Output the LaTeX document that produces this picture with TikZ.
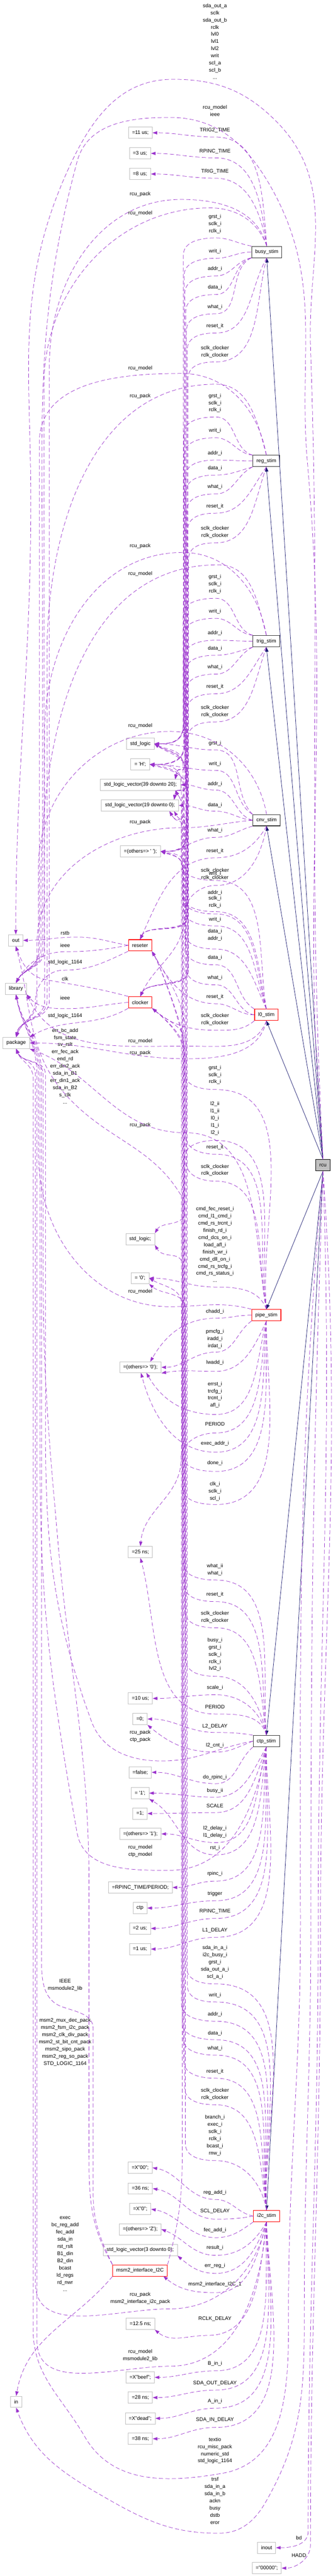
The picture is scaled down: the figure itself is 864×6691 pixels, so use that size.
\documentclass[tikz,border=0pt]{standalone}
\usepackage{fontspec}
\setmainfont{Liberation Sans}
\usetikzlibrary{arrows.meta}
\definecolor{edgec}{HTML}{9A32CD}
\definecolor{navyc}{HTML}{191970}
\definecolor{boxg}{HTML}{BFBFBF}
\newcommand\myq{\textquotesingle}
\newcommand\Tc[3]{.. controls +({#3*cos(#1)},{-#3*sin(#1)}) and +({#3*cos(#2)},{-#3*sin(#2)}) ..}
\newcommand\EDN[8]{\draw[dedge] (#1) \Tc{#2}{0}{#3} (560,#4) \Tc{180}{90}{37} (#5,#4+45) -- (#5,#6) \Tc{-90}{#7}{45} (#8);}
\newcommand\EUP[8]{\draw[dedge] (#1) \Tc{#2}{0}{#3} (560,#4) \Tc{180}{-90}{37} (#5,#4-45) -- (#5,#6) \Tc{90}{#7}{45} (#8);}
\newcommand\EDI[5]{\draw[dedge] (#1) \Tc{#2}{0}{#3} (560,#4) \Tc{180}{0}{65} (#5);}
\begin{document}
\begin{tikzpicture}[x=0.75pt,y=-0.75pt,font=\fontsize{10}{14}\selectfont,
 val/.style={draw=boxg,line width=0.9pt,fill=white,minimum height=22pt,inner xsep=7pt,inner ysep=0pt},
 comp/.style={draw=black!80,line width=1.1pt,fill=white,minimum height=22pt,inner xsep=7pt,inner ysep=0pt},
 redc/.style={comp,draw=red},
 lbl/.style={align=center,inner sep=0pt},
 dedge/.style={draw=edgec,line width=0.75pt,dash pattern=on 8pt off 4.5pt,-{Triangle[length=9pt,width=6.3pt]}},
 sedge/.style={draw=navyc,line width=0.75pt,-{Triangle[length=9pt,width=6.3pt]}}]
\fill[white] (0,0) rectangle (864,6691);
\useasboundingbox (0,0) rectangle (864,6691);
% ---------- nodes ----------
\node[val] (v11us) at (364.5,345) {=11 us;};
\node[val] (v3us) at (363.5,398.5) {=3 us;};
\node[val] (v8us) at (363.5,452) {=8 us;};
\node[val] (stdlogic) at (364.5,1932) {std\_logic};
\node[val] (vH) at (364,1985.5) {= \myq H\myq;};
\node[val] (slv3920) at (364.5,2038.5) {std\_logic\_vector(39 downto 20);};
\node[val] (slv190) at (363.5,2092) {std\_logic\_vector(19 downto 0);};
\node[val] (othsp) at (364.5,2211.5) {=(others=> \myq~\myq);};
\node[val] (nout) at (41,2442.5) {out};
\node[val] (nlib) at (41.5,2568) {library};
\node[val] (npkg) at (42,2709) {package};
\node[val] (stdlogicsemi) at (364,3218.5) {std\_logic;};
\node[val] (v0q) at (363.5,3320) {= \myq 0\myq;};
\node[val] (oth0) at (364.5,3551.5) {=(others=> \myq 0\myq);};
\node[val] (v25ns) at (364.5,4031.5) {=25 ns;};
\node[val] (v10us) at (364.5,4411.5) {=10 us;};
\node[val] (vzero) at (363.5,4465) {=0;};
\node[val] (vfalse) at (364,4603.5) {=false;};
\node[val] (v1q) at (363.5,4657.5) {= \myq 1\myq;};
\node[val] (vone) at (363.5,4710.5) {=1;};
\node[val] (oth1) at (364.5,4763.5) {=(others=> \myq 1\myq);};
\node[val] (vrpinc) at (364.5,4902.5) {=RPINC\_TIME/PERIOD;};
\node[val] (ctp) at (363.5,4956) {ctp};
\node[val] (v2us) at (363.5,5009) {=2 us;};
\node[val] (v1us) at (363.5,5062.5) {=1 us;};
\node[val] (vX00) at (364,5630.5) {=X"00";};
\node[val] (v36ns) at (364.5,5684.5) {=36 ns;};
\node[val] (vX0) at (364,5738) {=X"0";};
\node[val] (othZ) at (364,5790.5) {=(others=> \myq Z\myq);};
\node[val] (slv30) at (364,5844) {std\_logic\_vector(3 downto 0);};
\node[val] (v125ns) at (364.5,6036) {=12.5 ns;};
\node[val] (vbeef) at (364,6175) {=X"beef";};
\node[val] (v28ns) at (364.5,6227.5) {=28 ns;};
\node[val] (vdead) at (364,6281.5) {=X"dead";};
\node[val] (v38ns) at (364.5,6334.5) {=38 ns;};
\node[val] (nin) at (42,6238.5) {in};
\node[val] (ninout) at (692,6617.5) {inout};
\node[val] (n00000) at (692.5,6670.5) {="00000";};
\node[redc] (reseter) at (363.5,2455.5) {reseter};
\node[redc] (clocker) at (364,2603.5) {clocker};
\node[redc] (msm2) at (363.5,5897.5) {msm2\_interface\_I2C};
\node[comp] (busy) at (692.5,654.5) {busy\_stim};
\node[comp] (reg) at (691.5,1197.5) {reg\_stim};
\node[comp] (trig) at (691.5,1665.5) {trig\_stim};
\node[comp] (cnv) at (692,2130.5) {cnv\_stim};
\node[redc] (l0stim) at (691.5,2636) {l0\_stim};
\node[redc] (pipe) at (691.5,3416) {pipe\_stim};
\node[comp] (ctpstim) at (691.5,4522.5) {ctp\_stim};
\node[redc] (i2c) at (692,5756) {i2c\_stim};
\node[draw=black,line width=1.1pt,fill=boxg,minimum height=22pt,inner xsep=7pt,inner ysep=0pt] (rcu) at (838.5,3026.5) {rcu};
\coordinate (s39top) at (455,2024);
\coordinate (s39bot) at (455,2053);
\coordinate (s19top) at (452,2077);
\coordinate (s19bot) at (452,2107);
\coordinate (s19bot2) at (440,2107);
\coordinate (o0top) at (390,3537);
\coordinate (o0bot) at (380,3566);
\coordinate (o0bot2) at (366,3566);
\coordinate (m2se) at (424,5912);
% ---------- labels ----------
\node[lbl] (t1) at (558,107.5) {sda\_out\_a\\sclk\\sda\_out\_b\\rclk\\lvl0\\lvl1\\lvl2\\writ\\scl\_a\\scl\_b\\...};
\node[lbl] (t2) at (558,288) {rcu\_model\\ieee};
\node[lbl] (t3) at (558,339) {TRIG2\_TIME};
\node[lbl] (t4) at (558,393) {RPINC\_TIME};
\node[lbl] (t5) at (558,445) {TRIG\_TIME};
\node[lbl] (t6) at (364,505) {rcu\_pack};
\node[lbl] (t7) at (364,554) {rcu\_model};
\node[lbl] (t8) at (558,582) {grst\_i\\sclk\_i\\rclk\_i};
\node[lbl] (t9) at (558,653) {writ\_i};
\node[lbl] (t10) at (558,699) {addr\_i};
\node[lbl] (t11) at (558,747) {data\_i};
\node[lbl] (t12) at (558,797) {what\_i};
\node[lbl] (t13) at (558,847) {reset\_it};
\node[lbl] (t14) at (558,914) {sclk\_clocker\\rclk\_clocker};
\node[lbl] (t15) at (364,956) {rcu\_model};
\node[lbl] (t16) at (364,1029) {rcu\_pack};
\node[lbl] (t17) at (558,1047) {grst\_i\\sclk\_i\\rclk\_i};
\node[lbl] (t18) at (558,1119) {writ\_i};
\node[lbl] (t19) at (558,1177) {addr\_i};
\node[lbl] (t20) at (558,1216) {data\_i};
\node[lbl] (t21) at (558,1265) {what\_i};
\node[lbl] (t22) at (558,1315) {reset\_it};
\node[lbl] (t23) at (558,1382.5) {sclk\_clocker\\rclk\_clocker};
\node[lbl] (t24) at (364,1419) {rcu\_pack};
\node[lbl] (t25) at (364,1491) {rcu\_model};
\node[lbl] (t26) at (558,1517.5) {grst\_i\\sclk\_i\\rclk\_i};
\node[lbl] (t27) at (558,1588) {writ\_i};
\node[lbl] (t28) at (558,1645) {addr\_i};
\node[lbl] (t29) at (558,1684) {data\_i};
\node[lbl] (t30) at (558,1733) {what\_i};
\node[lbl] (t31) at (558,1784) {reset\_it};
\node[lbl] (t32) at (558,1848) {sclk\_clocker\\rclk\_clocker};
\node[lbl] (t33) at (364,1885) {rcu\_model};
\node[lbl] (t34) at (558,1931) {grst\_i};
\node[lbl] (t35) at (558,1984) {writ\_i};
\node[lbl] (t36) at (558,2036) {addr\_i};
\node[lbl] (t37) at (558,2092) {data\_i};
\node[lbl] (t38) at (364,2135) {rcu\_pack};
\node[lbl] (t39) at (558,2157) {what\_i};
\node[lbl] (t40) at (558,2211) {reset\_it};
\node[lbl] (t41) at (558,2270.5) {sclk\_clocker\\rclk\_clocker};
\node[lbl] (t42) at (558,2269) {writ\_i};
\node[lbl] (t43) at (558,2319) {addr\_i};
\node[lbl] (t44) at (558,2342.5) {sclk\_i\\rclk\_i};
\node[lbl] (t45) at (558,2388) {writ\_i};
\node[lbl] (t46) at (558,2428.5) {data\_i\\addr\_i};
\node[lbl] (t47) at (558,2488) {data\_i};
\node[lbl] (t48) at (558,2540) {what\_i};
\node[lbl] (t49) at (558,2589) {reset\_it};
\node[lbl] (t50) at (558,2647.5) {sclk\_clocker\\rclk\_clocker};
\node[lbl] (t51) at (364,2704) {rcu\_model};
\node[lbl] (t52) at (364,2735) {rcu\_pack};
\node[lbl] (t53) at (558,2792) {grst\_i\\sclk\_i\\rclk\_i};
\node[lbl] (t54) at (558,2905.5) {l2\_ii\\l1\_ii\\l0\_i\\l1\_i\\l2\_i};
\node[lbl] (t55) at (364,2923) {rcu\_pack};
\node[lbl] (t56) at (558,2980) {reset\_it};
\node[lbl] (t57) at (558,3039.5) {sclk\_clocker\\rclk\_clocker};
\node[lbl] (t58) at (558,3232.5) {cmd\_fec\_reset\_i\\cmd\_l1\_cmd\_i\\cmd\_rs\_trcnt\_i\\finish\_rd\_i\\cmd\_dcs\_on\_i\\load\_afl\_i\\finish\_wr\_i\\cmd\_dll\_on\_i\\cmd\_rs\_trcfg\_i\\cmd\_rs\_status\_i\\...};
\node[lbl] (t59) at (364,3354) {rcu\_model};
\node[lbl] (t60) at (558,3407) {chadd\_i};
\node[lbl] (t61) at (558,3477.5) {pmcfg\_i\\iradd\_i\\irdat\_i};
\node[lbl] (t62) at (558,3540) {lwadd\_i};
\node[lbl] (t63) at (558,3623) {errst\_i\\trcfg\_i\\trcnt\_i\\afl\_i};
\node[lbl] (t64) at (558,3699) {PERIOD};
\node[lbl] (t65) at (558,3749) {exec\_addr\_i};
\node[lbl] (t66) at (558,3800) {done\_i};
\node[lbl] (t67) at (558,3873.5) {clk\_i\\sclk\_i\\scl\_i};
\node[lbl] (t68) at (558,4077) {what\_ii\\what\_i};
\node[lbl] (t69) at (558,4141) {reset\_it};
\node[lbl] (t70) at (558,4200) {sclk\_clocker\\rclk\_clocker};
\node[lbl] (t71) at (558,4297.5) {busy\_i\\grst\_i\\sclk\_i\\rclk\_i\\lvl2\_i};
\node[lbl] (t72) at (558,4384) {scale\_i};
\node[lbl] (t73) at (558,4434) {PERIOD};
\node[lbl] (t74) at (558,4484) {L2\_DELAY};
\node[lbl] (t75) at (364,4509.5) {rcu\_pack\\ctp\_pack};
\node[lbl] (t76) at (558,4534) {l2\_cnt\_i};
\node[lbl] (t77) at (558,4616) {do\_rpinc\_i};
\node[lbl] (t78) at (558,4651) {busy\_ii};
\node[lbl] (t79) at (558,4691) {SCALE};
\node[lbl] (t80) at (558,4758.5) {l2\_delay\_i\\l1\_delay\_i};
\node[lbl] (t81) at (364,4808) {rcu\_model\\ctp\_model};
\node[lbl] (t82) at (558,4800) {rst\_i};
\node[lbl] (t83) at (558,4867) {rpinc\_i};
\node[lbl] (t84) at (558,4919) {trigger};
\node[lbl] (t85) at (558,4965) {RPINC\_TIME};
\node[lbl] (t86) at (558,5014) {L1\_DELAY};
\node[lbl] (t87) at (558,5097.5) {sda\_in\_a\_i\\i2c\_busy\_i\\grst\_i\\sda\_out\_a\_i\\scl\_a\_i};
\node[lbl] (t88) at (169,5155.5) {IEEE\\msmodule2\_lib};
\node[lbl] (t89) at (558,5183) {writ\_i};
\node[lbl] (t90) at (558,5232) {addr\_i};
\node[lbl] (t91) at (169,5304) {msm2\_mux\_dec\_pack\\msm2\_fsm\_i2c\_pack\\msm2\_clk\_div\_pack\\msm2\_st\_bit\_cnt\_pack\\msm2\_sipo\_pack\\msm2\_reg\_so\_pack\\STD\_LOGIC\_1164};
\node[lbl] (t92) at (558,5281) {data\_i};
\node[lbl] (t93) at (558,5321) {what\_i};
\node[lbl] (t94) at (558,5381) {reset\_it};
\node[lbl] (t95) at (558,5440) {sclk\_clocker\\rclk\_clocker};
\node[lbl] (t96) at (558,5546.5) {branch\_i\\exec\_i\\sclk\_i\\rclk\_i\\bcast\_i\\rnw\_i};
\node[lbl] (t97) at (558,5695) {reg\_add\_i};
\node[lbl] (t98) at (558,5744) {SCL\_DELAY};
\node[lbl] (t99) at (169,5854) {exec\\bc\_reg\_add\\fec\_add\\sda\_in\\rst\_rslt\\B1\_din\\B2\_din\\bcast\\ld\_regs\\rd\_nwr\\...};
\node[lbl] (t100) at (558,5793) {fec\_add\_i};
\node[lbl] (t101) at (558,5839) {result\_i};
\node[lbl] (t102) at (558,5885) {err\_reg\_i};
\node[lbl] (t103) at (558,5933) {msm2\_interface\_I2C\_1};
\node[lbl] (t104) at (364,5969.5) {rcu\_pack\\msm2\_interface\_i2c\_pack};
\node[lbl] (t105) at (558,6023) {RCLK\_DELAY};
\node[lbl] (t106) at (364,6117.5) {rcu\_model\\msmodule2\_lib};
\node[lbl] (t107) at (558,6139) {B\_in\_i};
\node[lbl] (t108) at (558,6191) {SDA\_OUT\_DELAY};
\node[lbl] (t109) at (558,6237) {A\_in\_i};
\node[lbl] (t110) at (558,6286) {SDA\_IN\_DELAY};
\node[lbl] (t111) at (558,6365) {textio\\rcu\_misc\_pack\\numeric\_std\\std\_logic\_1164};
\node[lbl] (t112) at (558,6495) {trsf\\sda\_in\_a\\sda\_in\_b\\ackn\\busy\\dstb\\eror};
\node[lbl] (t113) at (776,6592) {bd};
\node[lbl] (t114) at (776,6637) {HADD};
\node[lbl] (t115) at (169,2424) {rstb};
\node[lbl] (t116) at (169,2456) {ieee};
\node[lbl] (t117) at (169,2500) {std\_logic\_1164};
\node[lbl] (t118) at (169,2543) {clk};
\node[lbl] (t119) at (169,2592) {ieee};
\node[lbl] (t120) at (169,2639) {std\_logic\_1164};
\node[lbl] (t121) at (169,2769) {err\_bc\_add\\fsm\_state\\sv\_rslt\\err\_fec\_ack\\end\_rd\\err\_din2\_ack\\sda\_in\_B1\\err\_din1\_ack\\sda\_in\_B2\\s\_clk\\...};
% ---------- solid edges ----------
\draw[sedge] (rcu.north) -- (busy.south);
\draw[sedge] (rcu.north) -- (reg.south);
\draw[sedge] (rcu.north) -- (trig.south);
\draw[sedge] (rcu.north) -- (cnv.south);
\draw[sedge] (rcu.north) -- (l0stim.south);
\draw[sedge] (rcu.south) -- (pipe.north);
\draw[sedge] (rcu.south) -- (ctpstim.north);
\draw[sedge] (rcu.south) -- (i2c.north);
% ---------- rcu edges ----------
\draw[dedge] (rcu.north) \Tc{93}{-88}{824} (806,900) \Tc{92}{-45}{231} (716,314) \Tc{135}{0}{112} (449,206) \Tc{180}{65}{136} (182,429) \Tc{-115}{90}{342} (80,1300) \Tc{-90}{90}{440} (nout.north);
\draw[dedge] (rcu.north) \Tc{95}{-85}{707} (798,1200) \Tc{95}{-60}{283} (700,480) \Tc{120}{0}{122} (441,305) \Tc{180}{75}{104} (200,420) \Tc{-105}{90}{423} (110,1500) -- (110,2470) \Tc{-90}{60}{42} (nlib.north);
\draw[dedge] (rcu.south) \Tc{-95}{90}{764} (780,5000) \Tc{-90}{90}{390} (749,6000) \Tc{-90}{10}{178} (578,6424) \Tc{190}{-60}{144} (220,6329) \Tc{120}{-90}{121} (86,6050) -- (86,2800) \Tc{90}{-70}{34} (npkg.south);
\draw[dedge] (rcu.south) \Tc{-92}{90}{764} (807,5000) \Tc{-90}{90}{390} (790,6000) \Tc{-90}{60}{199} (689,6500) \Tc{-120}{0}{57} (567,6580) \Tc{180}{-30}{124} (264,6482) \Tc{150}{-70}{124} (nin.south);
\draw[dedge] (rcu.south) \Tc{-88}{90}{764} (826,5000) \Tc{-90}{90}{614} (800,6575) \Tc{-90}{0}{37} (ninout.east);
\draw[dedge] (rcu.south) \Tc{-86}{90}{764} (832,5000) \Tc{-90}{90}{628} (806,6610) \Tc{-90}{0}{37} (n00000.east);
% ---------- busy_stim ----------
\EDI{busy.north}{95}{122}{356}{v11us.east}
\EDI{busy.north}{97}{103}{410}{v3us.east}
\EDI{busy.north}{100}{86}{463}{v8us.east}
\draw[dedge] (busy.north) \Tc{105}{0}{99} (470,518) \Tc{180}{90}{215} (128,950) -- (128,2600) \Tc{-90}{80}{50} (npkg.north);
\draw[dedge] (busy.north) \Tc{110}{0}{69} (545,540) \Tc{180}{90}{246} (114,1000) -- (114,2470) \Tc{-90}{60}{43} (nlib.north);
\EDN{busy.north west}{170}{37}{618}{476}{1880}{0}{stdlogic.east}
\EDN{busy.west}{180}{36}{671}{478}{1935}{0}{vH.east}
\EDN{busy.south west}{190}{40}{717}{480}{1975}{80}{s39top}
\EDN{busy.south west}{195}{52}{765}{482}{2030}{80}{s19top}
\EDN{busy.south west}{205}{67}{815}{484}{2160}{0}{othsp.east}
\EDN{busy.south}{240}{92}{865}{486}{2380}{65}{reseter.north}
\EDN{busy.south}{255}{117}{940}{488}{2520}{65}{clocker.north}
% ---------- reg_stim ----------
\draw[dedge] (reg.north) \Tc{100}{0}{120} (470,970) \Tc{180}{90}{160} (102,1150) -- (102,2470) \Tc{-90}{60}{40} (nlib.north);
\draw[dedge] (reg.north) \Tc{105}{0}{88} (560,998) \Tc{180}{90}{323} (122,1700) -- (122,2600) \Tc{-90}{80}{48} (npkg.north);
\EDN{reg.north west}{165}{54}{1083}{477}{1882}{0}{stdlogic.east}
\EDN{reg.north west}{175}{41}{1137}{479}{1937}{0}{vH.east}
\EDN{reg.west}{180}{37}{1195}{481}{1977}{80}{s39top}
\EDN{reg.south west}{195}{38}{1234}{483}{2032}{80}{s19top}
\EDN{reg.south west}{205}{46}{1283}{485}{2163}{0}{othsp.east}
\EDN{reg.south}{235}{70}{1333}{487}{2382}{65}{reseter.north}
\EDN{reg.south}{250}{93}{1410}{489}{2522}{65}{clocker.north}
% ---------- trig_stim ----------
\draw[dedge] (trig.north) \Tc{100}{0}{119} (474,1435) \Tc{180}{90}{229} (116,1900) -- (116,2600) \Tc{-90}{80}{47} (npkg.north);
\draw[dedge] (trig.north) \Tc{105}{0}{87} (567,1467) \Tc{180}{90}{371} (106,2300) -- (106,2470) \Tc{-90}{60}{41} (nlib.north);
\EDN{trig.north west}{165}{53}{1554}{475}{1884}{0}{stdlogic.east}
\EDN{trig.north west}{175}{41}{1606}{477}{1939}{0}{vH.east}
\EDN{trig.west}{180}{37}{1663}{479}{1979}{80}{s39top}
\EDN{trig.south west}{195}{38}{1702}{481}{2034}{80}{s19top}
\EDN{trig.south west}{205}{46}{1751}{483}{2165}{0}{othsp.east}
\EDN{trig.south}{235}{70}{1802}{485}{2384}{65}{reseter.north}
\EDN{trig.south}{250}{92}{1875}{487}{2524}{65}{clocker.north}
% ---------- cnv_stim ----------
\draw[dedge] (cnv.north) \Tc{100}{0}{129} (441,1900) \Tc{180}{90}{190} (100,2250) -- (100,2470) \Tc{-90}{60}{40} (nlib.north);
\draw[dedge] (cnv.north west) \Tc{135}{0}{75} (560,1948) \Tc{180}{0}{62} (stdlogic.east);
\draw[dedge] (cnv.north west) \Tc{150}{0}{58} (560,2001) \Tc{180}{0}{67} (vH.east);
\draw[dedge] (cnv.west) \Tc{165}{0}{48} (560,2052) \Tc{180}{0}{37} (slv3920.east);
\draw[dedge] (cnv.west) \Tc{175}{0}{38} (560,2107) \Tc{180}{0}{39} (slv190.east);
\draw[dedge] (cnv.west) \Tc{185}{0}{73} (470,2150) \Tc{180}{90}{187} (96,2450) -- (96,2600) \Tc{-90}{70}{42} (npkg.north);
\draw[dedge] (cnv.south west) \Tc{195}{0}{39} (560,2175) \Tc{180}{0}{58} (othsp.east);
\draw[dedge] (cnv.south) \Tc{240}{0}{61} (560,2228) \Tc{180}{65}{113} (reseter.north);
\draw[dedge] (cnv.south) \Tc{260}{0}{80} (560,2300) \Tc{180}{90}{45} (478,2380) \Tc{-90}{65}{93} (clocker.north);
% ---------- reseter / clocker ----------
\draw[dedge] (reseter.west) \Tc{170}{0}{53} (200,2434) \Tc{180}{0}{54} (nout.east);
\draw[dedge] (reseter.west) \Tc{190}{0}{64} (170,2472) \Tc{180}{60}{59} (nlib.north);
\draw[dedge] (reseter.south west) \Tc{-155}{0}{68} (165,2520) \Tc{180}{90}{42} (92,2600) \Tc{-90}{70}{41} (npkg.north);
\draw[dedge] (clocker.north west) \Tc{165}{-10}{84} (120,2545) \Tc{170}{-70}{46} (nout.south);
\draw[dedge] (clocker.west) \Tc{185}{0}{64} (170,2620) \Tc{180}{-50}{42} (nlib.south east);
\draw[dedge] (clocker.south west) \Tc{-150}{30}{104} (npkg.north east);
% ---------- l0_stim ----------
\EUP{l0stim.north}{100}{140}{2287}{471}{2035}{0}{vH.east}
\EUP{l0stim.north}{103}{111}{2368}{473}{2090}{-60}{s39bot}
\EUP{l0stim.north}{106}{109}{2374}{475}{1990}{-25}{stdlogic.east}
\EUP{l0stim.north}{110}{99}{2405}{477}{2045}{-10}{vH.east}
\EUP{l0stim.north}{115}{80}{2465}{479}{2140}{-60}{s19bot}
\EUP{l0stim.north west}{150}{59}{2506}{481}{2150}{-60}{s19bot2}
\EUP{l0stim.west}{170}{50}{2558}{483}{2265}{-10}{othsp.east}
\draw[dedge] (l0stim.west) \Tc{180}{0}{41} (560,2607) \Tc{180}{-60}{84} (reseter.south east);
\draw[dedge] (l0stim.south west) \Tc{220}{0}{40} (560,2676) \Tc{180}{-40}{68} (clocker.south east);
\draw[dedge] (l0stim.south) \Tc{250}{0}{85} (485,2717) \Tc{180}{-65}{170} (nlib.south east);
\draw[dedge] (l0stim.south) \Tc{258}{0}{89} (485,2750) \Tc{180}{0}{160} (npkg.east);
% ---------- pipe_stim ----------
\EUP{pipe.north}{95}{228}{2830}{479}{1998}{-30}{stdlogic.east}
\draw[dedge] (pipe.north) \Tc{97}{0}{179} (560,2962) \Tc{180}{90}{37} (478,3010) -- (478,3150) \Tc{-90}{60}{36} (stdlogicsemi.north east);
\draw[dedge] (pipe.north) \Tc{100}{0}{197} (480,2942) \Tc{180}{-20}{179} (npkg.south east);
\draw[dedge] (pipe.north) \Tc{100}{0}{165} (560,2998) \Tc{180}{-90}{36} (482,2950) -- (482,2700) \Tc{90}{-60}{96} (reseter.south east);
\draw[dedge] (pipe.north) \Tc{102}{0}{140} (560,3068) \Tc{180}{-90}{35} (484,3020) -- (484,2720) \Tc{90}{-40}{53} (clocker.south east);
\draw[dedge] (pipe.north) \Tc{110}{0}{56} (560,3343) \Tc{180}{0}{68} (v0q.east);
\draw[dedge] (pipe.north west) \Tc{165}{0}{83} (440,3394) \Tc{180}{-90}{203} (100,3000) -- (100,2790) \Tc{90}{-80}{84} (nlib.south);
\draw[dedge] (pipe.west) \Tc{180}{0}{36} (560,3424) \Tc{180}{60}{80} (o0top);
\draw[dedge] (pipe.south west) \Tc{215}{0}{48} (560,3512) \Tc{180}{0}{57} (oth0.east);
\draw[dedge] (pipe.south) \Tc{245}{0}{72} (560,3562) \Tc{180}{10}{55} (oth0.south east);
\draw[dedge] (pipe.south) \Tc{255}{0}{108} (560,3674) \Tc{180}{-60}{82} (o0bot);
\draw[dedge] (pipe.south) \Tc{262}{0}{124} (560,3722) \Tc{180}{90}{44} (470,3790) \Tc{-90}{85}{97} (v25ns.north);
\draw[dedge] (pipe.south) \Tc{265}{0}{142} (560,3772) \Tc{180}{-75}{110} (o0bot2);
\EUP{pipe.south}{268}{161}{3822}{472}{3390}{-30}{v0q.east}
\EUP{pipe.south}{270}{193}{3908}{474}{3290}{-60}{stdlogicsemi.south east}
% ---------- ctp_stim ----------
\EUP{ctpstim.north}{95}{166}{4104}{476}{2268}{-20}{othsp.east}
\EUP{ctpstim.north}{97}{145}{4160}{478}{2715}{-60}{reseter.south east}
\EUP{ctpstim.north}{99}{121}{4228}{480}{2735}{-40}{clocker.south east}
\EUP{ctpstim.north}{101}{79}{4354}{482}{2003}{-30}{stdlogic.east}
\draw[dedge] (ctpstim.north) \Tc{103}{0}{66} (560,4402) \Tc{180}{0}{64} (v10us.east);
\draw[dedge] (ctpstim.north) \Tc{105}{0}{57} (560,4452) \Tc{180}{-75}{176} (v25ns.south);
\draw[dedge] (ctpstim.north west) \Tc{170}{0}{37} (560,4500) \Tc{180}{0}{70} (vzero.east);
\draw[dedge] (ctpstim.west) \Tc{190}{0}{94} (420,4574) \Tc{180}{-70}{82} (237,4470) \Tc{110}{-90}{304} (118,3700) -- (118,2790) \Tc{90}{-70}{39} (npkg.south);
\draw[dedge] (ctpstim.west) \Tc{200}{0}{39} (560,4551) \Tc{180}{-40}{74} (vzero.south east);
\draw[dedge] (ctpstim.south west) \Tc{220}{0}{53} (560,4633) \Tc{180}{0}{65} (vfalse.east);
\draw[dedge] (ctpstim.south) \Tc{240}{0}{72} (560,4668) \Tc{180}{0}{68} (v1q.east);
\draw[dedge] (ctpstim.south) \Tc{250}{0}{84} (560,4708) \Tc{180}{0}{69} (vone.east);
\draw[dedge] (ctpstim.south) \Tc{255}{0}{110} (560,4786) \Tc{180}{0}{56} (oth1.east);
\draw[dedge] (ctpstim.south) \Tc{260}{0}{159} (440,4858) \Tc{180}{-80}{101} (200,4760) \Tc{100}{-90}{376} (104,3800) -- (104,2790) \Tc{90}{-78}{84} (nlib.south);
\draw[dedge] (ctpstim.south) \Tc{262}{0}{121} (560,4818) \Tc{180}{-30}{88} (v1q.south east);
\draw[dedge] (ctpstim.south) \Tc{265}{0}{145} (560,4886) \Tc{180}{0}{45} (vrpinc.east);
\draw[dedge] (ctpstim.south) \Tc{267}{0}{164} (560,4937) \Tc{180}{0}{69} (ctp.east);
\draw[dedge] (ctpstim.south) \Tc{268}{0}{181} (560,4983) \Tc{180}{0}{66} (v2us.east);
\draw[dedge] (ctpstim.south) \Tc{270}{0}{200} (560,5032) \Tc{180}{0}{66} (v1us.east);
% ---------- i2c_stim ----------
\EUP{i2c.north}{93}{235}{5153}{484}{2008}{-35}{stdlogic.east}
\EUP{i2c.north}{94}{217}{5200}{486}{2052}{-15}{vH.east}
\EUP{i2c.north}{95}{198}{5250}{471}{2125}{-60}{s39bot}
\EUP{i2c.north}{96}{180}{5298}{473}{2160}{-60}{s19bot2}
\EUP{i2c.north}{97}{165}{5338}{475}{2272}{-15}{othsp.east}
\EUP{i2c.north}{98}{143}{5398}{477}{2720}{-60}{reseter.south east}
\EUP{i2c.north}{99}{119}{5467}{479}{2740}{-40}{clocker.south east}
\EUP{i2c.north}{100}{72}{5612}{481}{3400}{-40}{v0q.south east}
\draw[dedge] (i2c.west) \Tc{170}{0}{42} (560,5713) \Tc{180}{-10}{71} (vX00.east);
\draw[dedge] (i2c.west) \Tc{190}{0}{39} (560,5764) \Tc{180}{-10}{71} (v36ns.east);
\draw[dedge] (i2c.south west) \Tc{215}{0}{42} (560,5812) \Tc{180}{-10}{71} (vX0.east);
\draw[dedge] (i2c.south) \Tc{240}{0}{62} (560,5858) \Tc{180}{-20}{61} (othZ.east);
\draw[dedge] (i2c.south) \Tc{250}{0}{73} (560,5905) \Tc{180}{-40}{43} (slv30.south east);
\draw[dedge] (i2c.south) \Tc{255}{0}{88} (560,5955) \Tc{180}{-40}{56} (m2se);
\draw[dedge] (i2c.south) \Tc{258}{0}{132} (441,5997) \Tc{180}{-90}{139} (92,5930) -- (92,2790) \Tc{90}{-65}{32} (npkg.south);
\draw[dedge] (i2c.south) \Tc{262}{0}{129} (540,6066) \Tc{180}{-40}{54} (v125ns.south east);
\draw[dedge] (i2c.south) \Tc{265}{0}{176} (441,6146) \Tc{180}{-90}{137} (96,6080) -- (96,2790) \Tc{90}{-80}{83} (nlib.south);
\draw[dedge] (i2c.south) \Tc{268}{0}{160} (560,6158) \Tc{180}{0}{62} (vbeef.east);
\draw[dedge] (i2c.south) \Tc{270}{0}{178} (560,6208) \Tc{180}{0}{64} (v28ns.east);
\draw[dedge] (i2c.south) \Tc{271}{0}{196} (560,6255) \Tc{180}{0}{62} (vdead.east);
\draw[dedge] (i2c.south) \Tc{272}{0}{215} (560,6305) \Tc{180}{0}{65} (v38ns.east);
% ---------- msm2_interface_I2C ----------
\draw[dedge] (msm2.north east) \Tc{75}{-90}{111} (473,5600) -- (473,3110) \Tc{120}{-45}{148} (187,2861) \Tc{135}{-75}{168} (nout.south);
\draw[dedge] (msm2.north west) \Tc{115}{-90}{74} (242,5700) -- (242,5270) \Tc{90}{-20}{39} (160,5212) \Tc{160}{-90}{48} (108,5100) -- (108,2790) \Tc{90}{-78}{85} (nlib.south);
\draw[dedge] (msm2.north west) \Tc{120}{-90}{113} (231,5600) -- (231,4900) \Tc{90}{-85}{352} (150,4000) \Tc{95}{-90}{273} (112,3300) -- (112,2790) \Tc{90}{-70}{37} (npkg.south);
\draw[dedge] (msm2.south west) \Tc{-130}{80}{156} (nin.north);
\end{tikzpicture}
\end{document}
